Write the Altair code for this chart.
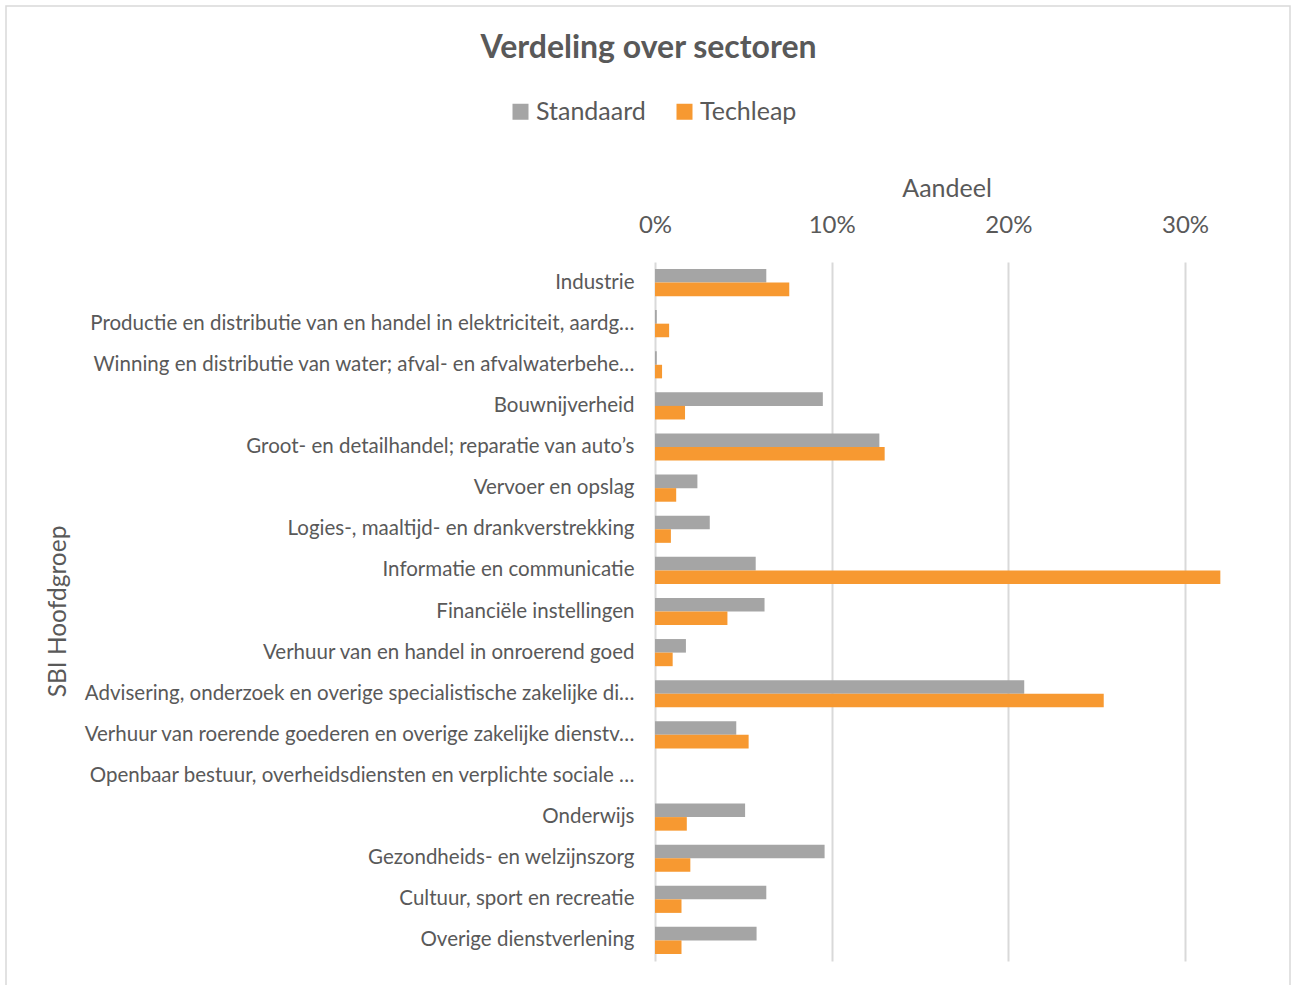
import altair as alt
import pandas as pd

categories = [
    "Industrie",
    "Productie en distributie van en handel in elektriciteit, aardgas, stoom en gekoelde lucht",
    "Winning en distributie van water; afval- en afvalwaterbeheer en sanering",
    "Bouwnijverheid",
    "Groot- en detailhandel; reparatie van auto’s",
    "Vervoer en opslag",
    "Logies-, maaltijd- en drankverstrekking ",
    "Informatie en communicatie",
    "Financiële instellingen",
    "Verhuur van en handel in onroerend goed",
    "Advisering, onderzoek en overige specialistische zakelijke dienstverlening",
    "Verhuur van roerende goederen en overige zakelijke dienstverlening",
    "Openbaar bestuur, overheidsdiensten en verplichte sociale verzekeringen",
    "Onderwijs",
    "Gezondheids- en welzijnszorg ",
    "Cultuur, sport en recreatie",
    "Overige dienstverlening",
]
standaard = [0.063, 0.001, 0.001, 0.095, 0.127, 0.024, 0.031, 0.057, 0.062, 0.0175,
             0.209, 0.046, 0.0, 0.051, 0.096, 0.063, 0.0575]
techleap = [0.076, 0.008, 0.004, 0.017, 0.130, 0.012, 0.009, 0.320, 0.041, 0.010,
            0.254, 0.053, 0.0, 0.018, 0.020, 0.015, 0.015]
series = ["Standaard", "Techleap"]
colors = ["#A5A5A5", "#F79931"]

rows = []
for c, s, t in zip(categories, standaard, techleap):
    rows.append({"Sector": c, "Reeks": "Standaard", "Aandeel": s})
    rows.append({"Sector": c, "Reeks": "Techleap", "Aandeel": t})
df = pd.DataFrame(rows)

FONT = "Lato"
GREY = "#595959"

bars = alt.Chart(df).mark_bar().encode(
    y=alt.Y("Sector:N", sort=categories,
            scale=alt.Scale(paddingInner=0.34, paddingOuter=0.17),
            axis=alt.Axis(title="SBI Hoofdgroep", labelFontSize=20.5, labelColor=GREY,
                          labelLimit=552, labelPadding=21, ticks=False, domain=False,
                          titleFontSize=24.5, titleFontWeight="normal", titleColor=GREY,
                          titleX=-597, titleY=349, titleAngle=270, titleBaseline="middle",
                          titleAlign="center")),
    yOffset=alt.YOffset("Reeks:N", sort=series),
    x=alt.X("Aandeel:Q", scale=alt.Scale(domain=[0, 0.33], nice=False),
            axis=alt.Axis(orient="top", format=".0%", values=[0, 0.1, 0.2, 0.3],
                          title="Aandeel", labelFontSize=24, labelColor=GREY,
                          labelPadding=25, labelFlush=False, ticks=False, domain=False,
                          grid=True, gridColor="#D9D9D9", gridWidth=2,
                          titleFontSize=25, titleFontWeight="normal", titleColor=GREY,
                          titlePadding=12)),
    color=alt.Color("Reeks:N", sort=series,
                    scale=alt.Scale(domain=series, range=colors),
                    legend=alt.Legend(title=None, orient="none", direction="horizontal",
                                      legendX=-147, legendY=-163, labelFontSize=25,
                                      labelColor=GREY, symbolType="square", symbolSize=256,
                                      symbolStrokeWidth=0, columnPadding=26, labelOffset=3)),
)

frame = alt.Chart(pd.DataFrame({"a": [0]})).mark_rect(
    fill=None, stroke="#D9D9D9", strokeWidth=1.5
).encode(x=alt.value(-649), x2=alt.value(635), y=alt.value(-256), y2=alt.value(725))

chart = alt.layer(frame, bars).properties(
    width=583, height=699,
    title=alt.TitleParams("Verdeling over sectoren", fontSize=32, fontWeight="bold",
                          color=GREY, font=FONT, anchor="middle", dx=-298, offset=-60),
    padding={"left": 655, "top": 262, "right": 54, "bottom": 24},
    autosize=alt.AutoSizeParams(type="none"),
).configure(font=FONT).configure_view(stroke=None)

chart.save("out.html", embed_options={"renderer": "svg", "actions": False})
